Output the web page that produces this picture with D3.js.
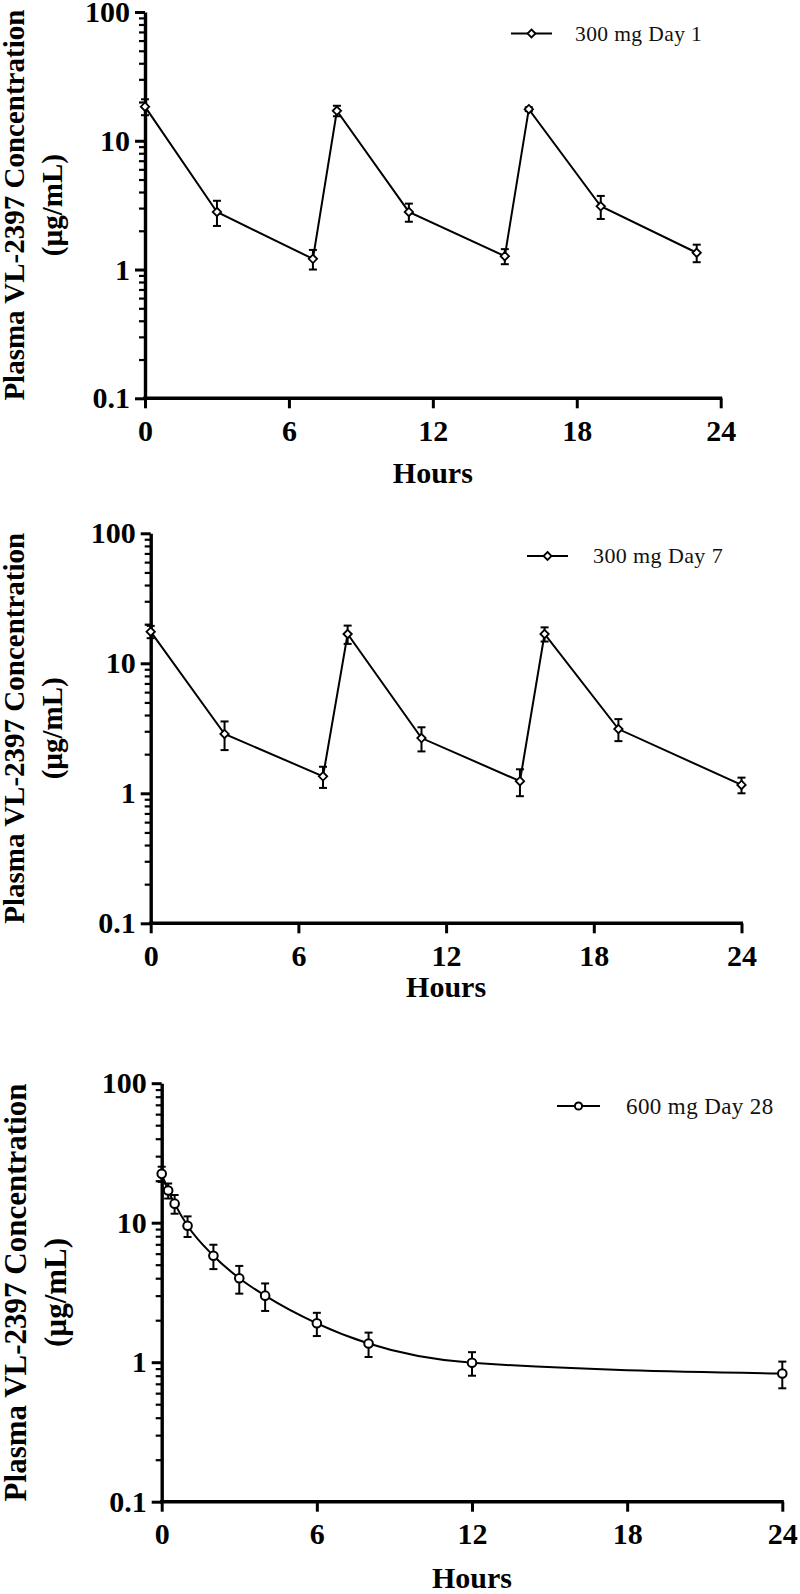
<!DOCTYPE html>
<html>
<head>
<meta charset="utf-8">
<script src="https://cdn.jsdelivr.net/npm/d3@7"></script>
<style>
  body { margin: 0; background: #fff; }
  svg { display: block; }
  text { font-family: "Liberation Serif", "Times New Roman", serif; }
</style>
</head>
<body>
<svg id="chart" width="800" height="1594"></svg>
<script>
// ---------- DATA ----------
const xTicks = [0, 6, 12, 18, 24];
const yMajorTicks = [0.1, 1, 10, 100];
const yTickLabels = ["0.1", "1", "10", "100"];
const xTitle = "Hours";
const yTitle1 = "Plasma VL-2397 Concentration";
const yTitle2 = "(\u00B5g/mL)";

const legend1 = "300 mg Day 1";
const hours1 = [0, 3, 7, 8, 11, 15, 16, 19, 23];
const mean1  = [18.4, 2.8, 1.21, 17.1, 2.8, 1.27, 17.6, 3.1, 1.35];
const sd1    = [2.6, 0.62, 0.21, 1.6, 0.45, 0.17, 0.6, 0.63, 0.21];

const legend2 = "300 mg Day 7";
const hours2 = [0, 3, 7, 8, 11, 15, 16, 19, 24];
const mean2  = [17.5, 2.86, 1.35, 16.8, 2.66, 1.24, 16.8, 3.12, 1.16];
const sd2    = [1.9, 0.71, 0.25, 2.7, 0.56, 0.29, 2.1, 0.6, 0.16];

const legend3 = "600 mg Day 28";
const hours3 = [0, 0.25, 0.5, 1, 2, 3, 4, 6, 8, 12, 24];
const mean3  = [22.4, 17.0, 13.7, 9.5, 5.8, 4.0, 3.0, 1.9, 1.36, 0.99, 0.83];
const sd3    = [2.8, 2.1, 2.1, 1.6, 1.15, 0.9, 0.67, 0.36, 0.27, 0.19, 0.18];

// ---------- LAYOUT ----------
const panels = [
  { hours: hours1, mean: mean1, sd: sd1, legend: legend1, marker: "diamond", curve: d3.curveLinear,
    x0: 145, x1: 720.7, yTop: 12, yBot: 398.3,
    titleX1: 24, titleX2: 62, titleSize: 29, hoursDy: 85,
    legLine: [511, 552], legY: 33.5, legTextX: 575, legSize: 21.5 },
  { hours: hours2, mean: mean2, sd: sd2, legend: legend2, marker: "diamond", curve: d3.curveLinear,
    x0: 150.7, x1: 741.5, yTop: 533.3, yBot: 923.3,
    titleX1: 24, titleX2: 62, titleSize: 29, hoursDy: 74,
    legLine: [527, 568], legY: 556, legTextX: 593, legSize: 22 },
  { hours: hours3, mean: mean3, sd: sd3, legend: legend3, marker: "circle", curve: d3.curveMonotoneX,
    x0: 161.7, x1: 782.3, yTop: 1083.2, yBot: 1501.7,
    titleX1: 26, titleX2: 66, titleSize: 31, hoursDy: 86,
    legLine: [557, 600], legY: 1106, legTextX: 626, legSize: 23 }
];

const svg = d3.select("#chart");
svg.append("rect").attr("width", 800).attr("height", 1594).attr("fill", "#fff");

const minorVals = [];
[0.1, 1, 10].forEach(d => { for (let k = 2; k <= 9; k++) minorVals.push(+(d * k).toPrecision(3)); });

function drawMarker(g, type, cx, cy, legend) {
  if (type === "diamond") {
    const s = legend ? 4 : 4.2;
    g.append("path")
      .attr("d", `M${cx},${cy - s}L${cx + s},${cy}L${cx},${cy + s}L${cx - s},${cy}Z`)
      .attr("fill", "#fff").attr("stroke", "#000").attr("stroke-width", 1.8);
  } else {
    g.append("circle").attr("cx", cx).attr("cy", cy).attr("r", legend ? 3.6 : 4.3)
      .attr("fill", "#fff").attr("stroke", "#000").attr("stroke-width", 2);
  }
}

panels.forEach(p => {
  const x = d3.scaleLinear().domain([0, 24]).range([p.x0, p.x1]);
  const y = d3.scaleLog().domain([0.1, 100]).range([p.yBot, p.yTop]);
  const g = svg.append("g");

  // minor y ticks
  const minorAxis = d3.axisLeft(y).tickValues(minorVals).tickSize(6).tickFormat("");
  const gm = g.append("g").attr("transform", `translate(${p.x0},0)`).call(minorAxis);
  gm.select(".domain").remove();
  gm.selectAll("line").attr("stroke", "#000").attr("stroke-width", 2.2);

  // major y axis
  const yAxis = d3.axisLeft(y).tickValues(yMajorTicks)
    .tickFormat((d, i) => yTickLabels[i]).tickSize(10).tickSizeOuter(0).tickPadding(5);
  const gy = g.append("g").attr("transform", `translate(${p.x0},0)`).call(yAxis);
  gy.select(".domain").attr("stroke", "#000").attr("stroke-width", 3.4);
  gy.selectAll(".tick line").attr("stroke", "#000").attr("stroke-width", 3);
  gy.selectAll("text").attr("font-family", "Liberation Serif").attr("font-weight", "bold")
    .attr("font-size", 30).attr("fill", "#000");

  // x axis
  const xAxis = d3.axisBottom(x).tickValues(xTicks).tickSize(10).tickSizeOuter(0).tickPadding(11);
  const gx = g.append("g").attr("transform", `translate(0,${p.yBot})`).call(xAxis);
  gx.select(".domain").attr("stroke", "#000").attr("stroke-width", 3.4)
    .attr("d", `M${p.x0 - 1.7},0H${p.x1 + 1.5}`);
  gx.selectAll(".tick line").attr("stroke", "#000").attr("stroke-width", 3);
  gx.selectAll("text").attr("font-family", "Liberation Serif").attr("font-weight", "bold")
    .attr("font-size", 30).attr("fill", "#000");

  // x title
  g.append("text").attr("x", (p.x0 + p.x1) / 2).attr("y", p.yBot + p.hoursDy)
    .attr("text-anchor", "middle").attr("font-weight", "bold").attr("font-size", 30)
    .text(xTitle);

  // y title
  const cy = (p.yTop + p.yBot) / 2;
  g.append("text").attr("transform", `translate(${p.titleX1},${cy}) rotate(-90)`)
    .attr("text-anchor", "middle").attr("font-weight", "bold").attr("font-size", p.titleSize)
    .text(yTitle1);
  g.append("text").attr("transform", `translate(${p.titleX2},${cy}) rotate(-90)`)
    .attr("text-anchor", "middle").attr("font-weight", "bold").attr("font-size", p.titleSize)
    .text(yTitle2);

  const data = p.hours.map((h, i) => ({ h, m: p.mean[i], s: p.sd[i] }));

  // error bars
  const eb = g.append("g").attr("stroke", "#000").attr("stroke-width", 2).attr("fill", "none");
  data.forEach(d => {
    const cx = x(d.h), yt = y(d.m + d.s), yb = y(d.m - d.s);
    eb.append("line").attr("x1", cx).attr("x2", cx).attr("y1", yt).attr("y2", yb);
    eb.append("line").attr("x1", cx - 4).attr("x2", cx + 4).attr("y1", yt).attr("y2", yt);
    eb.append("line").attr("x1", cx - 4).attr("x2", cx + 4).attr("y1", yb).attr("y2", yb);
  });

  // line
  const line = d3.line().x(d => x(d.h)).y(d => y(d.m)).curve(p.curve);
  g.append("path").datum(data).attr("d", line).attr("fill", "none")
    .attr("stroke", "#000").attr("stroke-width", 2);

  // markers
  const mg = g.append("g");
  data.forEach(d => drawMarker(mg, p.marker, x(d.h), y(d.m), false));

  // legend
  g.append("line").attr("x1", p.legLine[0]).attr("x2", p.legLine[1])
    .attr("y1", p.legY).attr("y2", p.legY).attr("stroke", "#000").attr("stroke-width", 2);
  drawMarker(g, p.marker, (p.legLine[0] + p.legLine[1]) / 2, p.legY, true);
  g.append("text").attr("x", p.legTextX).attr("y", p.legY).attr("dy", "0.33em")
    .attr("font-size", p.legSize).attr("letter-spacing", 0.4).attr("fill", "#111")
    .text(p.legend);
});
</script>
</body>
</html>
